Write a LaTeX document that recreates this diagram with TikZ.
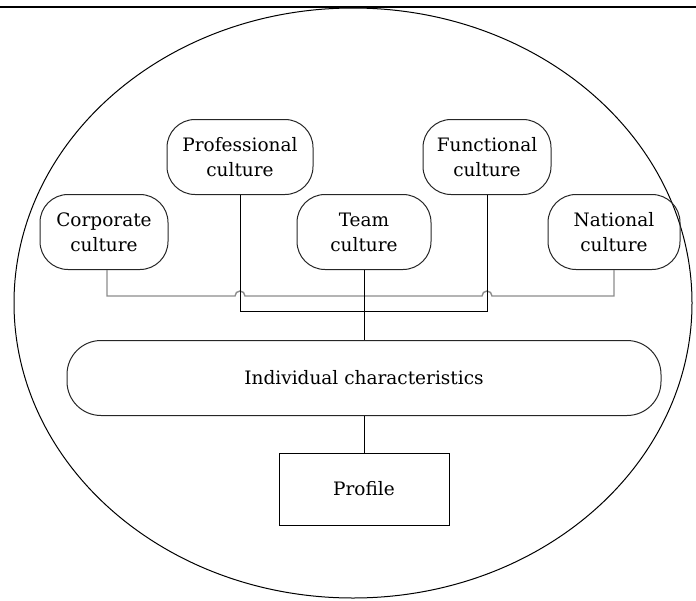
\documentclass[tikz,border=0pt]{standalone}
\usepackage{fontspec}
\setmainfont{DejaVu Serif}
\begin{document}
\begin{tikzpicture}[x=1pt,y=-1pt,
  every node/.style={font=\fontsize{18.5}{25}\selectfont, align=center, inner sep=0pt},
  culture/.style={draw=black!85, line width=1pt, rounded corners=28pt,
                  minimum width=#1, minimum height=75pt},
  culture/.default=132pt,
  wire/.style={draw=black, line width=1pt},
  greywire/.style={draw=black!45, line width=1.4pt}]
  \useasboundingbox (0,0) rectangle (696,600);

  % frame line along the top
  \draw[line width=1.4pt] (0,7) -- (696,7);

  % enclosing ellipse
  \draw[line width=1pt] (353,303) ellipse [x radius=339pt, y radius=295pt];

  % culture nodes
  \node[culture=146pt] (prof) at (240,157) {Professional\\culture};
  \node[culture=128pt] (func) at (487,157) {Functional\\culture};
  \node[culture=128pt] (corp) at (104,232) {Corporate\\culture};
  \node[culture=134pt] (team) at (364,232) {Team\\culture};
  \node[culture=132pt] (nat)  at (614,232) {National\\culture};

  % individual characteristics and profile
  \node[draw=black!85, line width=1pt, rounded corners=34pt,
        minimum width=594pt, minimum height=75pt] (indiv) at (364,378)
        {Individual characteristics};
  \node[draw=black, line width=1pt, minimum width=170pt, minimum height=72pt]
        (profile) at (364,489) {Profile};

  % bus levels
  \coordinate (gbus) at (0,296);
  \coordinate (kbus) at (0,311);

  % grey bus with hops over the black verticals
  \draw[greywire] ([xshift=3pt]corp.south) |- ([xshift=-5pt]prof.south |- gbus)
     arc[start angle=180, end angle=0, radius=5pt]
     -- ([xshift=-5pt]func.south |- gbus)
     arc[start angle=180, end angle=0, radius=5pt]
     -| (nat.south);

  % black bus
  \draw[wire] (prof.south) |- (kbus -| func.south) -- (func.south);
  \draw[wire] (team.south) -- (indiv.north);
  \draw[wire] (indiv.south) -- (profile.north);
\end{tikzpicture}
\end{document}
